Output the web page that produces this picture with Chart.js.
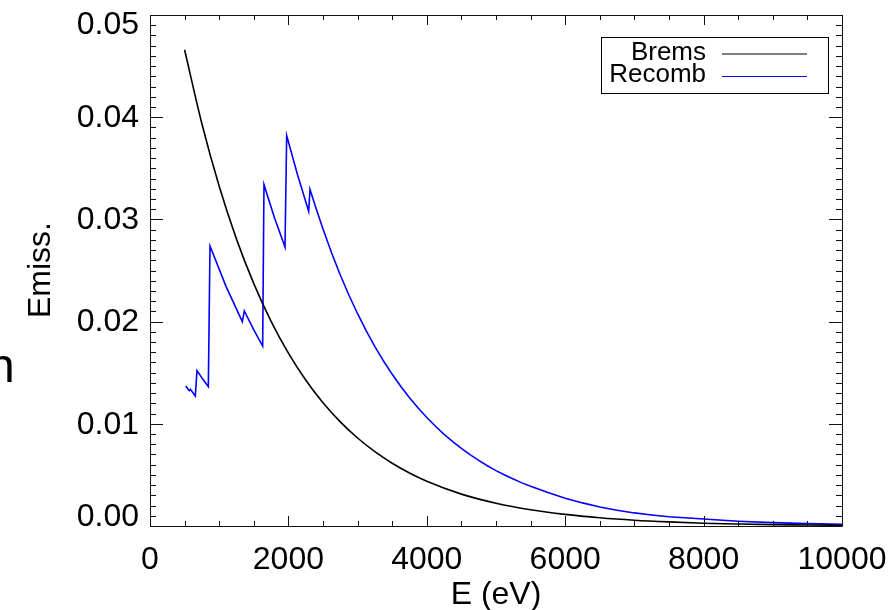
<!DOCTYPE html>
<html>
<head>
<meta charset="utf-8">
<script src="https://cdn.jsdelivr.net/npm/chart.js@4/dist/chart.umd.min.js"></script>
<style>
  html, body { margin: 0; padding: 0; background: #fff; }
  #wrap { width: 891px; height: 610px; }
</style>
</head>
<body>
<div id="wrap"><canvas id="emissChart" width="891" height="610"></canvas></div>
<script>
const FONT = '"Liberation Sans", Arial, Helvetica, sans-serif';

// Bremsstrahlung emissivity vs photon energy (eV)
const bremsE = [500, 750, 1000, 1250, 1500, 1750, 2000, 2250, 2500, 2750, 3000, 3250, 3500, 3750,
  4000, 4500, 5000, 5500, 6000, 6500, 7000, 7500, 8000, 8500, 9000, 9500, 10000];
const bremsVals = [0.0466, 0.03936, 0.03324, 0.02807, 0.02371, 0.02002, 0.01691, 0.01428, 0.01206,
  0.01019, 0.00861, 0.00727, 0.00614, 0.00519, 0.00438, 0.00312, 0.00223, 0.00159, 0.00114,
  0.00081, 0.00057, 0.0004, 0.00027, 0.00019, 0.00013, 0.0001, 0.00007];

// Recombination emissivity, with the edges
const recombE = [516, 568, 583, 655, 679, 760, 843, 867, 1100, 1334, 1363, 1500, 1628, 1647, 1800,
  1951, 1975, 2130, 2293, 2312, 2400, 2500, 2625, 2750, 2875, 3000, 3125, 3250, 3375, 3500, 3625,
  3750, 3875, 4000, 4125, 4250, 4375, 4500, 4625, 4750, 4875, 5000, 5125, 5250, 5375, 5500, 5750,
  6000, 6250, 6500, 6750, 7000, 7250, 7500, 8000, 8500, 9000, 9500, 10000];
const recombVals = [0.0137, 0.01324, 0.01337, 0.01272, 0.0152, 0.0144, 0.01363, 0.0274, 0.02342,
  0.0200, 0.02104, 0.01919, 0.01761, 0.0334, 0.03014, 0.0273, 0.0382, 0.03442, 0.0308, 0.03295,
  0.03106, 0.02905, 0.02671, 0.02456, 0.02258, 0.02077, 0.01909, 0.01756, 0.01614, 0.01484, 0.01365,
  0.01255, 0.01154, 0.01061, 0.00976, 0.00897, 0.00825, 0.00759, 0.00698, 0.00642, 0.0059,
  0.00542, 0.00499, 0.00459, 0.00422, 0.00388, 0.00328, 0.00272, 0.00226, 0.00186, 0.00154,
  0.00128, 0.00108, 0.00091, 0.00068, 0.00047, 0.00033, 0.00023, 0.00016];

const xTicks = [0, 2000, 4000, 6000, 8000, 10000];
const xTickLabels = ['0', '2000', '4000', '6000', '8000', '10000'];
const yTicks = [0, 0.01, 0.02, 0.03, 0.04, 0.05];
const yTickLabels = ['0.00', '0.01', '0.02', '0.03', '0.04', '0.05'];

const seriesNames = ['Brems', 'Recomb'];
const seriesColors = ['#000000', '#0000ff'];

function toPoints(xs, ys) {
  return xs.map((x, i) => ({ x: x, y: ys[i] }));
}

// IDL-style frame: box axes, inward ticks, labels, titles, legend
const idlFrame = {
  id: 'idlFrame',
  afterDatasetsDraw(chart) {
    const ctx = chart.ctx;
    const xs = chart.scales.x;
    const ys = chart.scales.y;
    const a = chart.chartArea;
    ctx.save();
    ctx.strokeStyle = '#111';
    ctx.lineWidth = 1;

    ctx.beginPath();
    ctx.rect(a.left + 0.5, a.top + 0.5, a.right - a.left, a.bottom - a.top);
    ctx.stroke();

    // x ticks (bottom and top)
    ctx.beginPath();
    for (let v = 0; v <= 10000; v += 500) {
      const px = Math.round(xs.getPixelForValue(v)) + 0.5;
      const major = v % 2000 === 0;
      const len = major ? 10 : 5;
      ctx.moveTo(px, a.bottom); ctx.lineTo(px, a.bottom - len);
      ctx.moveTo(px, a.top); ctx.lineTo(px, a.top + len);
    }
    // y ticks (left and right)
    for (let i = 0; i <= 50; i++) {
      const py = Math.round(ys.getPixelForValue(i / 1000)) + 0.5;
      const major = i % 10 === 0;
      const len = major ? 13 : 6;
      ctx.moveTo(a.left, py); ctx.lineTo(a.left + len, py);
      ctx.moveTo(a.right, py); ctx.lineTo(a.right - len, py);
    }
    ctx.stroke();

    ctx.fillStyle = '#000';
    ctx.font = '32px ' + FONT;
    ctx.textAlign = 'center';
    ctx.textBaseline = 'alphabetic';
    xTicks.forEach((v, i) => {
      ctx.fillText(xTickLabels[i], xs.getPixelForValue(v), 569);
    });
    ctx.textAlign = 'right';
    ctx.textBaseline = 'middle';
    yTicks.forEach((v, i) => {
      let py = ys.getPixelForValue(v);
      py = Math.min(Math.max(py, a.top + 9), a.bottom - 10);
      ctx.fillText(yTickLabels[i], a.left - 11, py + 1);
    });

    // axis titles
    ctx.textAlign = 'center';
    ctx.textBaseline = 'alphabetic';
    ctx.fillText('E (eV)', (a.left + a.right) / 2, 604);
    ctx.save();
    ctx.translate(50, 270);
    ctx.rotate(-Math.PI / 2);
    ctx.fillText('Emiss.', 0, 0);
    ctx.restore();

    // clipped stray glyph at the left edge
    ctx.font = '48px ' + FONT;
    ctx.textAlign = 'left';
    ctx.fillText('n', -12, 382);

    // legend
    ctx.fillStyle = '#fff';
    ctx.fillRect(601, 37, 227, 56);
    ctx.strokeStyle = '#000';
    ctx.lineWidth = 1;
    ctx.strokeRect(601.5, 37.5, 227, 56);
    ctx.font = '26px ' + FONT;
    ctx.textAlign = 'right';
    const rows = [60, 82];
    const lineY = [54, 76.5];
    chart.data.datasets.forEach((ds, i) => {
      ctx.fillStyle = '#000';
      ctx.fillText(ds.label, 706, rows[i]);
      ctx.strokeStyle = ds.borderColor;
      ctx.lineWidth = 1.2;
      ctx.beginPath();
      ctx.moveTo(722, lineY[i]);
      ctx.lineTo(807, lineY[i]);
      ctx.stroke();
    });
    ctx.restore();
  }
};

const emissChart = new Chart(document.getElementById('emissChart').getContext('2d'), {
  type: 'scatter',
  data: {
    datasets: [
      {
        label: seriesNames[0],
        data: toPoints(bremsE, bremsVals),
        borderColor: seriesColors[0],
        borderWidth: 1.6,
        showLine: true,
        pointRadius: 0,
        cubicInterpolationMode: 'monotone'
      },
      {
        label: seriesNames[1],
        data: toPoints(recombE, recombVals),
        borderColor: seriesColors[1],
        borderWidth: 1.6,
        showLine: true,
        pointRadius: 0,
        tension: 0
      }
    ]
  },
  options: {
    responsive: false,
    animation: false,
    layout: { padding: { left: 150, right: 49, top: 15, bottom: 84 } },
    scales: {
      x: { type: 'linear', min: 0, max: 10000, display: false },
      y: { type: 'linear', min: 0, max: 0.05, display: false }
    },
    plugins: {
      legend: { display: false },
      tooltip: { enabled: false }
    }
  },
  plugins: [idlFrame]
});
</script>
</body>
</html>
